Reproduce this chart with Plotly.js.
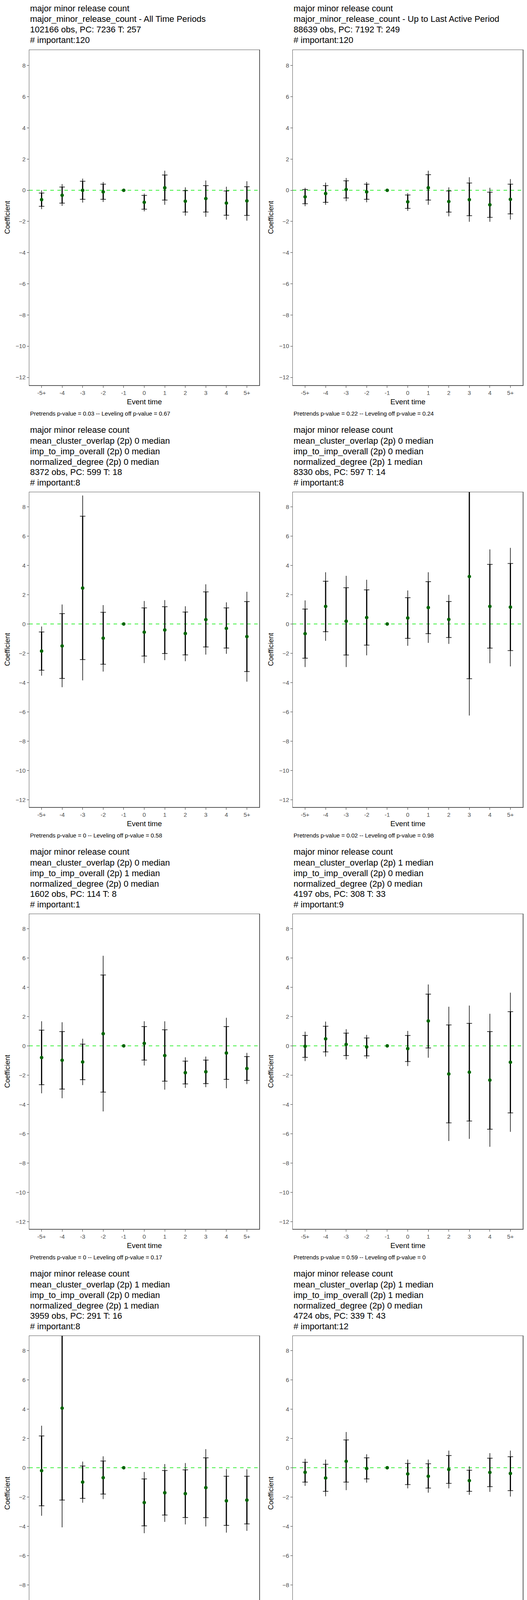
<!DOCTYPE html>
<html>
<head>
<meta charset="utf-8">
<script src="https://cdn.plot.ly/plotly-3.0.1.min.js"></script>
<style>
  body { margin:0; width:1350px; height:5400px; background:#fff; position:relative; }
  .panel { position:absolute; width:675px; height:1080px; }
</style>
</head>
<body>
<div id="p1" class="panel" style="left:0;top:0"></div>
<div id="p2" class="panel" style="left:675px;top:0"></div>
<div id="p3" class="panel" style="left:0;top:1080px"></div>
<div id="p4" class="panel" style="left:675px;top:1080px"></div>
<div id="p5" class="panel" style="left:0;top:2160px"></div>
<div id="p6" class="panel" style="left:675px;top:2160px"></div>
<div id="p7" class="panel" style="left:0;top:3240px"></div>
<div id="p8" class="panel" style="left:675px;top:3240px"></div>
<div id="p9" class="panel" style="left:0;top:4320px"></div>
<script>
const eventTimes = ['-5+','-4','-3','-2','-1','0','1','2','3','4','5+'];

// panel 1: All Time Periods
const est1  = [-0.6,-0.32,0.0,-0.1,0,-0.77,0.16,-0.7,-0.53,-0.82,-0.68];
const hiIn1 = [-0.18,0.21,0.58,0.39,0,-0.33,0.98,-0.02,0.3,-0.04,0.23];
const loIn1 = [-1.03,-0.82,-0.58,-0.58,0,-1.21,-0.63,-1.39,-1.39,-1.6,-1.61];
const hiOut1= [0.0,0.4,0.75,0.53,0,-0.21,1.26,0.19,0.63,0.23,0.58];
const loOut1= [-1.21,-1.0,-0.79,-0.75,0,-1.35,-0.93,-1.63,-1.7,-1.88,-1.95];
// panel 2: Up to Last Active Period
const est2  = [-0.42,-0.21,0.05,-0.1,0,-0.74,0.16,-0.72,-0.6,-0.93,-0.58];
const hiIn2 = [0.05,0.3,0.61,0.39,0,-0.3,1.0,-0.04,0.47,-0.12,0.39];
const loIn2 = [-0.86,-0.77,-0.49,-0.58,0,-1.16,-0.63,-1.4,-1.63,-1.74,-1.51];
const hiOut2= [0.16,0.49,0.79,0.53,0,-0.18,1.26,0.19,0.84,0.16,0.72];
const loOut2= [-1.02,-0.93,-0.7,-0.77,0,-1.32,-0.93,-1.67,-2.02,-2.02,-1.88];
// panel 3: 0/0/0
const est3  = [-1.85,-1.5,2.45,-0.97,0,-0.56,-0.41,-0.65,0.3,-0.3,-0.86];
const hiIn3 = [-0.54,0.71,7.36,0.8,0,1.1,1.18,0.82,2.19,1.1,1.53];
const loIn3 = [-3.16,-3.72,-2.43,-2.75,0,-2.19,-2.02,-2.11,-1.57,-1.64,-3.25];
const hiOut3= [-0.17,1.33,8.77,1.29,0,1.57,1.63,1.21,2.71,1.48,2.2];
const loOut3= [-3.53,-4.32,-3.85,-3.25,0,-2.67,-2.47,-2.54,-2.09,-2.04,-3.94];
// panel 4: 0/0/1
const est4  = [-0.66,1.2,0.19,0.44,0,0.41,1.12,0.31,3.24,1.2,1.15];
const hiIn4 = [1.02,2.92,2.48,2.33,0,1.8,2.89,1.54,10.22,4.07,4.13];
const loIn4 = [-2.34,-0.53,-2.12,-1.44,0,-0.98,-0.66,-0.92,-3.74,-1.65,-1.82];
const hiOut4= [1.61,3.53,3.29,3.02,0,2.29,3.53,1.99,12.73,5.09,5.2];
const loOut4= [-2.94,-1.15,-2.94,-2.14,0,-1.49,-1.29,-1.36,-6.25,-2.68,-2.9];
// panel 5: 0/1/0
const est5  = [-0.8,-0.98,-1.1,0.83,0,0.17,-0.66,-1.83,-1.77,-0.49,-1.55];
const hiIn5 = [1.07,0.98,0.12,4.84,0,1.32,1.1,-1.04,-0.97,1.32,-0.73];
const loIn5 = [-2.65,-2.95,-2.31,-3.16,0,-0.97,-2.41,-2.6,-2.58,-2.29,-2.36];
const hiOut5= [1.68,1.61,0.49,6.15,0,1.68,1.68,-0.78,-0.73,1.92,-0.48];
const loOut5= [-3.24,-3.58,-2.68,-4.48,0,-1.34,-2.99,-2.87,-2.82,-2.9,-2.61];
// panel 6: 1/0/0
const est6  = [-0.03,0.48,0.1,-0.07,0,-0.19,1.7,-1.92,-1.8,-2.34,-1.12];
const hiIn6 = [0.71,1.34,0.87,0.54,0,0.71,3.53,1.43,1.54,0.98,2.34];
const loIn6 = [-0.78,-0.41,-0.66,-0.68,0,-1.07,-0.14,-5.26,-5.13,-5.69,-4.58];
const hiOut6= [0.97,1.66,1.14,0.75,0,1.02,4.19,2.67,2.75,2.19,3.63];
const loOut6= [-1.04,-0.73,-0.93,-0.87,0,-1.38,-0.81,-6.5,-6.35,-6.89,-5.87];
// panel 7: 1/0/1
const est7  = [-0.2,4.07,-0.98,-0.68,0,-2.38,-1.71,-1.77,-1.36,-2.26,-2.21];
const hiIn7 = [2.17,10.35,0.12,0.46,0,-0.76,-0.19,-0.14,0.68,-0.58,-0.58];
const loIn7 = [-2.6,-2.21,-2.09,-1.8,0,-3.97,-3.23,-3.4,-3.41,-3.94,-3.84];
const hiOut7= [2.87,12.2,0.42,0.78,0,-0.29,0.25,0.32,1.27,-0.08,-0.1];
const loOut7= [-3.28,-4.07,-2.39,-2.14,0,-4.47,-3.7,-3.87,-4.01,-4.43,-4.31];
// panel 8: 1/1/0
const est8  = [-0.31,-0.7,0.44,-0.05,0,-0.42,-0.58,-0.12,-0.88,-0.32,-0.39];
const hiIn8 = [0.37,0.24,1.9,0.68,0,0.29,0.27,0.83,-0.17,0.65,0.75];
const loIn8 = [-0.98,-1.61,-0.98,-0.76,0,-1.15,-1.39,-1.07,-1.61,-1.29,-1.56];
const hiOut8= [0.61,0.56,2.44,0.92,0,0.56,0.56,1.17,0.1,1.0,1.17];
const loOut8= [-1.24,-1.95,-1.53,-1.02,0,-1.41,-1.7,-1.41,-1.85,-1.65,-1.97];
// panel 9: 1/1/1
const est9  = [-0.64,-0.4,-0.18,-0.51,0,-1.71,-1.65,-1.65,-2.95,-3.1,-1.87];
const hiIn9 = [0.68,0.72,0.73,0.72,0,0.0,0.26,0.37,-0.83,-0.97,0.33];
const loIn9 = [-1.94,-1.52,-1.12,-1.72,0,-3.38,-3.56,-3.67,-5.08,-5.21,-4.09];
const hiOut9= [1.1,1.06,1.01,1.1,0,0.51,0.84,0.99,-0.18,-0.33,1.05];
const loOut9= [-2.35,-1.85,-1.39,-2.11,0,-3.89,-4.15,-4.28,-5.76,-5.85,-4.79];

const titles = [
  ['major minor release count','major_minor_release_count - All Time Periods','102166 obs, PC: 7236 T: 257','# important:120'],
  ['major minor release count','major_minor_release_count - Up to Last Active Period','88639 obs, PC: 7192 T: 249','# important:120'],
  ['major minor release count','mean_cluster_overlap (2p) 0 median','imp_to_imp_overall (2p) 0 median','normalized_degree (2p) 0 median','8372 obs, PC: 599 T: 18','# important:8'],
  ['major minor release count','mean_cluster_overlap (2p) 0 median','imp_to_imp_overall (2p) 0 median','normalized_degree (2p) 1 median','8330 obs, PC: 597 T: 14','# important:8'],
  ['major minor release count','mean_cluster_overlap (2p) 0 median','imp_to_imp_overall (2p) 1 median','normalized_degree (2p) 0 median','1602 obs, PC: 114 T: 8','# important:1'],
  ['major minor release count','mean_cluster_overlap (2p) 1 median','imp_to_imp_overall (2p) 0 median','normalized_degree (2p) 0 median','4197 obs, PC: 308 T: 33','# important:9'],
  ['major minor release count','mean_cluster_overlap (2p) 1 median','imp_to_imp_overall (2p) 0 median','normalized_degree (2p) 1 median','3959 obs, PC: 291 T: 16','# important:8'],
  ['major minor release count','mean_cluster_overlap (2p) 1 median','imp_to_imp_overall (2p) 1 median','normalized_degree (2p) 0 median','4724 obs, PC: 339 T: 43','# important:12'],
  ['major minor release count','mean_cluster_overlap (2p) 1 median','imp_to_imp_overall (2p) 1 median','normalized_degree (2p) 1 median','4470 obs, PC: 324 T: 28','# important:15'],
];
const pretrends = ['0.03','0.22','0','0.02','0','0.59','0','0.29','0.89'];
const levelingOff = ['0.67','0.24','0.58','0.98','0.17','0','0.91','0.81','0.04'];

const panels = [
  [est1,hiIn1,loIn1,hiOut1,loOut1],[est2,hiIn2,loIn2,hiOut2,loOut2],
  [est3,hiIn3,loIn3,hiOut3,loOut3],[est4,hiIn4,loIn4,hiOut4,loOut4],
  [est5,hiIn5,loIn5,hiOut5,loOut5],[est6,hiIn6,loIn6,hiOut6,loOut6],
  [est7,hiIn7,loIn7,hiOut7,loOut7],[est8,hiIn8,loIn8,hiOut8,loOut8],
  [est9,hiIn9,loIn9,hiOut9,loOut9],
];

const FONT = 'Liberation Sans, Arial, sans-serif';
const W = 675, H = 1080, L = 75, R = 11, B = 94;

function errs(est, hi, lo){
  // the reference period (-1) has no interval
  const plus = est.map((e,i)=> eventTimes[i]==='-1' ? NaN : hi[i]-e);
  const minus = est.map((e,i)=> eventTimes[i]==='-1' ? NaN : e-lo[i]);
  return {plus, minus};
}

panels.forEach(([est,hiIn,loIn,hiOut,loOut], k) => {
  const lines = titles[k];
  const T = lines.length === 4 ? 128 : 180;
  const pw = W-L-R, ph = H-T-B;
  const px = x => (x-L)/pw, py = y => (H-B-y)/ph;

  const outer = errs(est,hiOut,loOut), inner = errs(est,hiIn,loIn);
  const base = {type:'scatter', x:eventTimes, y:est, hoverinfo:'skip', showlegend:false};
  const traces = [
    {...base, mode:'none', error_y:{type:'data', symmetric:false, array:outer.plus, arrayminus:outer.minus, color:'#000', thickness:1.5, width:0}},
    {...base, mode:'none', error_y:{type:'data', symmetric:false, array:inner.plus, arrayminus:inner.minus, color:'#000', thickness:3, width:0}},
    {...base, mode:'none', error_y:{type:'data', symmetric:false, array:inner.plus, arrayminus:inner.minus, color:'#000', thickness:1.5, width:7}},
    {...base, mode:'markers', marker:{color:'#006400', size:9}},
  ];

  const ann = lines.map((t,i)=>({
    text:t, xref:'paper', yref:'paper', x:px(L), y:py(21+27*i),
    xanchor:'left', yanchor:'middle', showarrow:false, font:{family:FONT, size:22, color:'#000'}
  }));
  ann.push({text:'Event time', xref:'paper', yref:'paper', x:0.5, y:py(1028), xanchor:'center', yanchor:'middle',
            showarrow:false, font:{family:FONT, size:19, color:'#000'}});
  ann.push({text:'Coefficient', xref:'paper', yref:'paper', x:px(19), y:0.5, textangle:-90, xanchor:'center', yanchor:'middle',
            showarrow:false, font:{family:FONT, size:18, color:'#000'}});
  ann.push({text:'Pretrends p-value = '+pretrends[k]+' -- Leveling off p-value = '+levelingOff[k],
            xref:'paper', yref:'paper', x:px(L), y:py(1058), xanchor:'left', yanchor:'middle',
            showarrow:false, font:{family:FONT, size:15, color:'#000'}});

  const layout = {
    width:W, height:H, margin:{l:L, r:R, t:T, b:B}, paper_bgcolor:'#fff', plot_bgcolor:'#fff',
    font:{family:FONT},
    xaxis:{type:'category', range:[-0.6,10.6], showgrid:false, zeroline:false, showline:true, mirror:true,
           linecolor:'#555', linewidth:1.5, ticks:'outside', ticklen:5, tickcolor:'#333',
           tickfont:{size:15, color:'#4d4d4d'}},
    yaxis:{range:[-12.5,9], tickvals:[-12,-10,-8,-6,-4,-2,0,2,4,6,8], showgrid:false, zeroline:false,
           showline:true, mirror:true, linecolor:'#555', linewidth:1.5, ticks:'outside', ticklen:5,
           tickcolor:'#333', tickfont:{size:15, color:'#4d4d4d'}},
    shapes:[{type:'line', xref:'paper', yref:'y', x0:0, x1:1, y0:0, y1:0, layer:'below',
             line:{color:'#22ee22', width:1.8, dash:'dash'}}],
    annotations:ann,
  };
  Plotly.newPlot('p'+(k+1), traces, layout, {staticPlot:true});
});
</script>
</body>
</html>
